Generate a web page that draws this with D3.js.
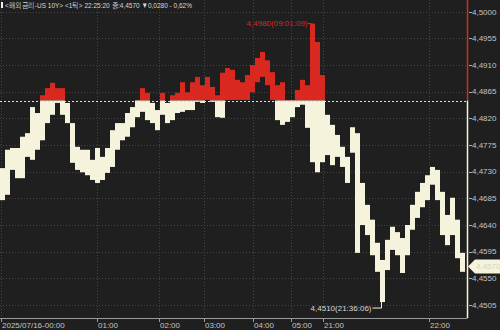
<!DOCTYPE html>
<html>
<head>
<meta charset="utf-8">
<script src="https://cdn.jsdelivr.net/npm/d3@7"></script>
<style>
  html, body { margin: 0; padding: 0; background: #1f1f1f; }
  svg { display: block; }
  text { font-family: "Liberation Sans Narrow", "Liberation Sans", sans-serif; }
</style>
</head>
<body>
<div id="chart"></div>
<script>
// US 10Y tick chart, one step per slot (high / low of each slot)
const highs = [
  4.4736, 4.4767, 4.4770, 4.4770, 4.4789, 4.4795, 4.4839, 4.4829, 4.4859, 4.4871,
  4.4880, 4.4871, 4.4871, 4.4846, 4.4812, 4.4772, 4.4767, 4.4767, 4.4750, 4.4770,
  4.4755, 4.4770, 4.4800, 4.4812, 4.4812, 4.4829, 4.4839, 4.4851, 4.4871, 4.4863,
  4.4846, 4.4834, 4.4863, 4.4846, 4.4859, 4.4863, 4.4881, 4.4864, 4.4881, 4.4890,
  4.4876, 4.4890, 4.4873, 4.4859, 4.4897, 4.4905, 4.4902, 4.4885, 4.4881, 4.4893,
  4.4910, 4.4922, 4.4932, 4.4918, 4.4898, 4.4876, 4.4881, 4.4851, 4.4851, 4.4868,
  4.4885, 4.4876, 4.4980, 4.4949, 4.4893, 4.4826, 4.4809, 4.4792, 4.4772, 4.4755,
  4.4805, 4.4795, 4.4711, 4.4674, 4.4649, 4.4610, 4.4581, 4.4615, 4.4637, 4.4628,
  4.4618, 4.4640, 4.4674, 4.4696, 4.4711, 4.4724, 4.4738, 4.4733, 4.4696, 4.4657,
  4.4686, 4.4649, 4.4593
];
const lows = [
  4.4682, 4.4691, 4.4733, 4.4719, 4.4719, 4.4755, 4.4750, 4.4767, 4.4783, 4.4812,
  4.4826, 4.4846, 4.4826, 4.4812, 4.4745, 4.4733, 4.4729, 4.4724, 4.4716, 4.4711,
  4.4716, 4.4728, 4.4738, 4.4767, 4.4783, 4.4789, 4.4805, 4.4822, 4.4831, 4.4817,
  4.4812, 4.4800, 4.4826, 4.4812, 4.4817, 4.4829, 4.4831, 4.4834, 4.4834, 4.4848,
  4.4846, 4.4851, 4.4848, 4.4822, 4.4821, 4.4851, 4.4851, 4.4851, 4.4851, 4.4851,
  4.4864, 4.4881, 4.4890, 4.4876, 4.4851, 4.4817, 4.4809, 4.4814, 4.4822, 4.4839,
  4.4843, 4.4804, 4.4746, 4.4729, 4.4746, 4.4758, 4.4741, 4.4755, 4.4738, 4.4711,
  4.4762, 4.4593, 4.4640, 4.4623, 4.4589, 4.4561, 4.4510, 4.4564, 4.4598, 4.4589,
  4.4559, 4.4589, 4.4632, 4.4652, 4.4670, 4.4682, 4.4708, 4.4682, 4.4623, 4.4606,
  4.4623, 4.4584, 4.4561
];

const prevClose = 4.4850;
const lastPrice = 4.4570;
const yTicks = [4.5000, 4.4955, 4.4910, 4.4865, 4.4820, 4.4775, 4.4730, 4.4685, 4.4640, 4.4595, 4.4550, 4.4505];
const xTickPos = [0.2, 19.3, 31.8, 40.8, 50.5, 58.3, 64.6, 85.8];
const xTickLabels = ["2025/07/16-00:00", "01:00", "02:00", "03:00", "04:00", "05:00", "21:00", "22:00"];
const maxIdx = 62, maxLabel = "4,4980(09:01:09)";
const minIdx = 76, minLabel = "4,4510(21:36:06)";
const title = "<해외금리-US 10Y> <1틱> 22:25:20 종:4,4570 ▼0,0280 - 0,62%";

const W = 500, H = 330, plotR = 467.5, plotB = 318;
const red = "#d8281f", cream = "#f6f3dd", gridC = "#444";
const fmt = v => v.toFixed(4).replace(".", ",");

const svg = d3.select("#chart").append("svg").attr("width", W).attr("height", H);
svg.append("rect").attr("width", W).attr("height", H).attr("fill", "#1f1f1f");

const x = d3.scaleLinear().domain([0, 93.4]).range([0, 467]);
const y = d3.scaleLinear().domain([4.4505, 4.5000]).range([305, 11.7]);

// grid
svg.append("g").selectAll("line").data(yTicks).enter().append("line")
   .attr("x1", 0).attr("x2", plotR).attr("y1", d => Math.round(y(d)) + 0.5).attr("y2", d => Math.round(y(d)) + 0.5)
   .attr("stroke", gridC).attr("stroke-dasharray", "1,2");
svg.append("g").selectAll("line").data(xTickPos).enter().append("line")
   .attr("x1", d => Math.round(x(d)) + 0.5).attr("x2", d => Math.round(x(d)) + 0.5).attr("y1", 0).attr("y2", plotB)
   .attr("stroke", gridC).attr("stroke-dasharray", "1,2");

// clips for above / below previous close
const yb = y(prevClose);
const defs = svg.append("defs");
defs.append("clipPath").attr("id", "above").append("rect").attr("x", 0).attr("y", 0).attr("width", plotR).attr("height", yb);
defs.append("clipPath").attr("id", "below").append("rect").attr("x", 0).attr("y", yb).attr("width", plotR).attr("height", plotB - yb);

const bars = highs.map((h, i) => ({ i, h, l: lows[i] }));
[["above", red], ["below", cream]].forEach(([clip, col]) => {
  svg.append("g").attr("clip-path", `url(#${clip})`)
     .selectAll("rect").data(bars).enter().append("rect")
     .attr("x", d => x(d.i))
     .attr("width", d => x(d.i + 1) - x(d.i))
     .attr("y", d => y(d.h))
     .attr("height", d => Math.max(1, y(d.l) - y(d.h)))
     .attr("fill", col);
});

// previous close line
svg.append("line").attr("x1", 0).attr("x2", plotR).attr("y1", Math.round(yb) + 0.5).attr("y2", Math.round(yb) + 0.5)
   .attr("stroke", "#ddd").attr("stroke-dasharray", "2,2");

// right axis
svg.append("line").attr("x1", plotR).attr("x2", plotR).attr("y1", 0).attr("y2", yb).attr("stroke", red).attr("stroke-width", 1.5);
svg.append("line").attr("x1", plotR).attr("x2", plotR).attr("y1", yb).attr("y2", plotB).attr("stroke", cream).attr("stroke-width", 1.5);
const yAx = svg.append("g");
yAx.selectAll("line").data(yTicks).enter().append("line")
   .attr("x1", 469).attr("x2", 472).attr("y1", d => Math.round(y(d)) + 0.5).attr("y2", d => Math.round(y(d)) + 0.5)
   .attr("stroke", "#aaa");
yAx.selectAll("text").data(yTicks).enter().append("text")
   .attr("x", 472).attr("y", d => y(d)).attr("dy", "0.35em")
   .attr("font-size", 8).attr("fill", "#c4c4c4").text(fmt);

// current price marker
const yl = y(lastPrice);
svg.append("path")
   .attr("d", `M468,${yl} L475,${yl - 7} L500,${yl - 7} L500,${yl + 7} L475,${yl + 7} Z`)
   .attr("fill", cream);
svg.append("text").attr("x", 476).attr("y", yl).attr("dy", "0.35em").attr("font-size", 8)
   .attr("fill", "#d9d5bb").text(fmt(lastPrice));

// bottom axis
svg.append("line").attr("x1", 0).attr("x2", plotR).attr("y1", plotB + 0.5).attr("y2", plotB + 0.5).attr("stroke", "#9a9a9a");
const xAx = svg.append("g");
xAx.selectAll("line").data(xTickPos).enter().append("line")
   .attr("x1", d => Math.round(x(d)) + 0.5).attr("x2", d => Math.round(x(d)) + 0.5)
   .attr("y1", plotB).attr("y2", plotB + 4).attr("stroke", "#9a9a9a");
xAx.selectAll("text").data(xTickPos).enter().append("text")
   .attr("x", d => Math.round(x(d)) + 1).attr("y", 328)
   .attr("font-size", 8).attr("fill", "#c4c4c4").text((d, i) => xTickLabels[i]);

// high / low annotations
const mx = x(maxIdx) + 1.5, my = y(highs[maxIdx]);
svg.append("text").attr("x", mx - 4).attr("y", my).attr("dy", "0.35em").attr("text-anchor", "end")
   .attr("font-size", 8).attr("fill", red).text(maxLabel);
svg.append("path").attr("d", `M${mx - 4},${my} H${mx}`).attr("stroke", red).attr("fill", "none");

const nx = x(minIdx) + 1.5, ny = y(lows[minIdx]);
svg.append("text").attr("x", nx - 10).attr("y", ny + 6).attr("dy", "0.35em").attr("text-anchor", "end")
   .attr("font-size", 8).attr("fill", "#d8d8d8").text(minLabel);
svg.append("path").attr("d", `M${nx - 9},${ny + 6} H${nx} V${ny}`).attr("stroke", cream).attr("fill", "none");

// title
svg.append("rect").attr("x", 1).attr("y", 2).attr("width", 2).attr("height", 6).attr("fill", "#eee");
svg.append("text").attr("x", 5).attr("y", 8).attr("font-size", 8)
   .attr("font-family", "'Noto Sans CJK KR', sans-serif").attr("fill", "#d8d8d8")
   .attr("textLength", 187).attr("lengthAdjust", "spacingAndGlyphs").text(title);
</script>
</body>
</html>
